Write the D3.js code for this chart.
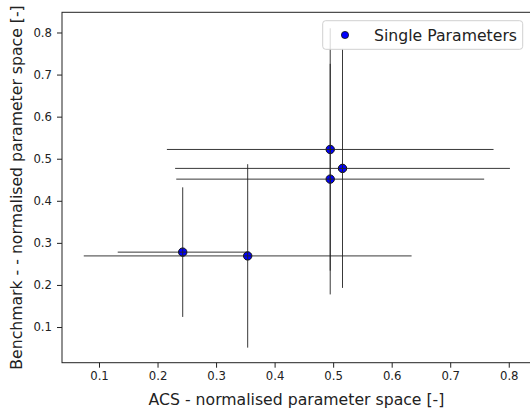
<!DOCTYPE html>
<html>
<head>
<meta charset="utf-8">
<script src="https://cdn.jsdelivr.net/npm/d3@7"></script>
<style>
  body { margin: 0; background: #fff; }
  svg { font-family: "DejaVu Sans", sans-serif; }
</style>
</head>
<body>
<div id="chart"></div>
<script>
// values
const acs = [0.243, 0.354, 0.495, 0.516, 0.495];
const bench = [0.278, 0.269, 0.522, 0.477, 0.4515];
const acsErr = [0.111, 0.280, 0.279, 0.286, 0.263];
const benchErr = [0.154, 0.218, 0.288, 0.284, 0.274];
const xTicks = [0.1, 0.2, 0.3, 0.4, 0.5, 0.6, 0.7, 0.8];
const yTicks = [0.1, 0.2, 0.3, 0.4, 0.5, 0.6, 0.7, 0.8];
const legendLabel = "Single Parameters";

const w = 530;
const h = 413;
const plotLeft = 62, plotRight = 531, plotTop = 12.3, plotBottom = 362.7;

const points = acs.map((x, i) => ({x: x, y: bench[i], ex: acsErr[i], ey: benchErr[i]}));

const x = d3.scaleLinear().domain([0.0368, 0.838]).range([plotLeft, plotRight]);
const y = d3.scaleLinear().domain([0.0152, 0.848]).range([plotBottom, plotTop]);

const svg = d3.select("#chart").append("svg").attr("width", w).attr("height", h);

// axes
const xAxis = svg.append("g")
    .attr("transform", `translate(0,${plotBottom})`)
    .call(d3.axisBottom(x).tickValues(xTicks).tickFormat(d3.format(".1f")).tickSize(5).tickPadding(4).tickSizeOuter(0));
const yAxis = svg.append("g")
    .attr("transform", `translate(${plotLeft},0)`)
    .call(d3.axisLeft(y).tickValues(yTicks).tickFormat(d3.format(".1f")).tickSize(5).tickPadding(5).tickSizeOuter(0));

[xAxis, yAxis].forEach(a => {
    a.select(".domain").remove();
    a.selectAll("text").style("font-size", "11.7px").style("fill", "#222").style("font-family", "DejaVu Sans");
    a.selectAll("line").style("stroke", "#222");
});

// frame
svg.append("rect")
    .attr("x", plotLeft).attr("y", plotTop)
    .attr("width", plotRight - plotLeft).attr("height", plotBottom - plotTop)
    .style("fill", "none").style("stroke", "#222").style("stroke-width", 1);

// markers
svg.append("g").selectAll("circle")
    .data(points)
    .enter()
    .append("circle")
    .attr("cx", d => x(d.x))
    .attr("cy", d => y(d.y))
    .attr("r", 4.2)
    .style("fill", "#0000ff")
    .style("stroke", "#111")
    .style("stroke-width", 1);

// error bars on top
const bars = svg.append("g").selectAll("g")
    .data(points)
    .enter()
    .append("g")
    .style("stroke", "#222")
    .style("stroke-width", 0.9);

bars.append("line")
    .attr("x1", d => x(d.x - d.ex)).attr("x2", d => x(d.x + d.ex))
    .attr("y1", d => y(d.y)).attr("y2", d => y(d.y));

bars.append("line")
    .attr("x1", d => x(d.x)).attr("x2", d => x(d.x))
    .attr("y1", d => y(d.y - d.ey)).attr("y2", d => y(d.y + d.ey));

// legend
const legend = svg.append("g");
legend.append("rect")
    .attr("x", 322.7).attr("y", 20.7)
    .attr("width", 200).attr("height", 28.6)
    .attr("rx", 3).attr("ry", 3)
    .style("fill", "#fff").style("fill-opacity", 0.8)
    .style("stroke", "#d0d0d0").style("stroke-width", 1);
legend.append("circle")
    .attr("cx", 345).attr("cy", 35)
    .attr("r", 3.6)
    .style("fill", "#0000ff")
    .style("stroke", "#111")
    .style("stroke-width", 0.8);
legend.append("text")
    .text(legendLabel)
    .attr("x", 374).attr("y", 40.5)
    .style("font-size", "15.7px")
    .style("fill", "#222");

// axis labels
svg.append("text")
    .text("ACS - normalised parameter space [-]")
    .attr("x", 296.5).attr("y", 405)
    .attr("text-anchor", "middle")
    .style("font-size", "15.7px")
    .style("fill", "#222");

svg.append("text")
    .text("Benchmark - - normalised parameter space [-]")
    .attr("transform", "translate(22,187.5) rotate(-90)")
    .attr("text-anchor", "middle")
    .style("font-size", "15.7px")
    .style("fill", "#222");
</script>
</body>
</html>
